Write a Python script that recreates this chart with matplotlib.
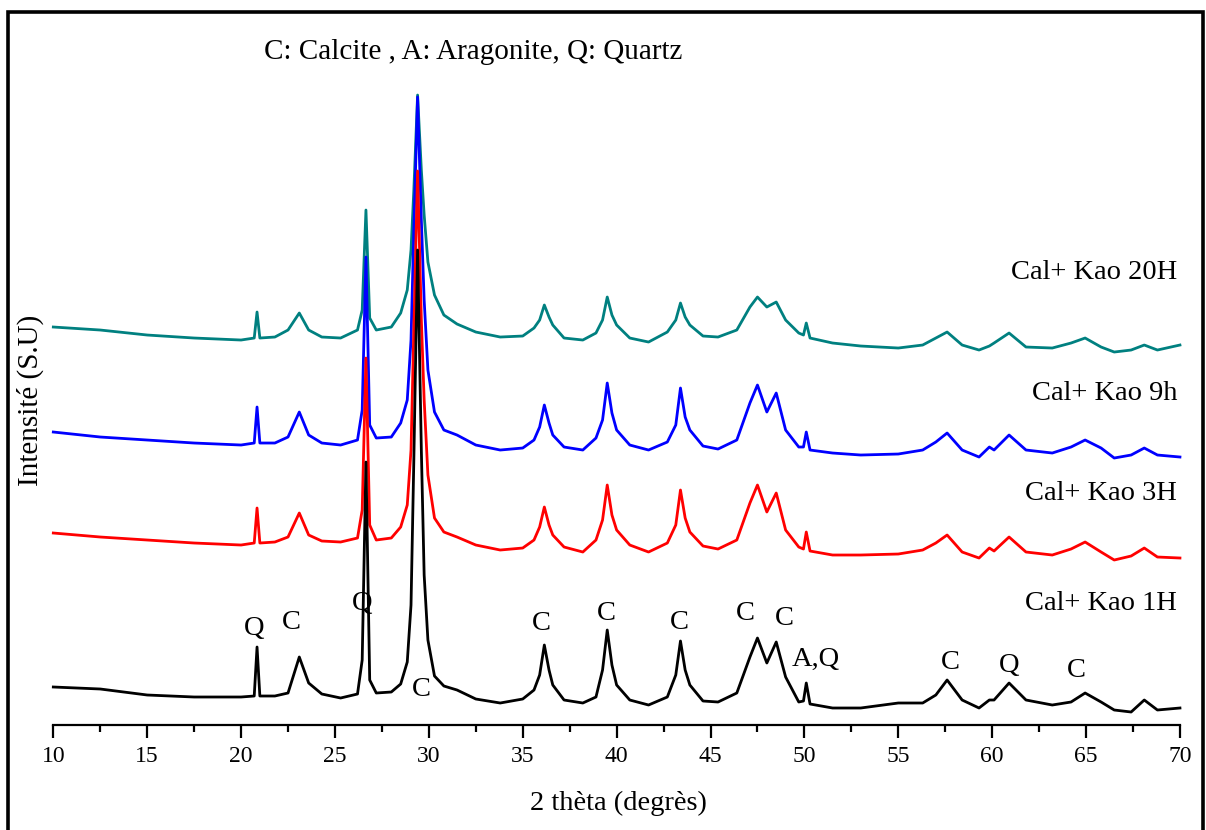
import numpy as np
import matplotlib
matplotlib.use("Agg")
import matplotlib.pyplot as plt
from matplotlib.patches import Rectangle
from matplotlib.ticker import MultipleLocator

plt.rcParams['font.family'] = ['Liberation Serif', 'DejaVu Serif']

# 2 theta positions (degrees) where the traces were read
two_theta = [10, 12.5, 15, 17.5, 20, 20.7, 20.85, 21.0, 21.8, 22.5, 23.1, 23.6, 24.3,
             25.3, 26.2, 26.45, 26.65, 26.85, 27.2, 28.0, 28.5, 28.85, 29.05, 29.2,
             29.4, 29.6, 29.75, 29.95, 30.3, 30.8, 31.5, 32.5, 33.8, 35.0, 35.6, 35.9, 36.15, 36.4,
             36.6, 37.2, 38.2, 38.9, 39.25, 39.5, 39.75, 40.0, 40.7, 41.7, 42.7, 43.15, 43.4, 43.65, 43.9, 44.6,
             45.4, 46.4, 47.1, 47.5, 48.0, 48.5, 49.0, 49.7, 49.95, 50.1, 50.3, 51.5,
             53.0, 55.0, 56.3, 57.0, 57.6, 58.4, 59.3, 59.85, 60.1, 60.9, 61.8, 63.2,
             64.2, 64.95, 65.8, 66.5, 67.4, 68.1, 68.8, 70.0]

# intensities (arbitrary units, traces offset as in the figure)
kao_20h = [398, 395, 390, 387, 385, 387, 413, 387, 388, 395, 412, 395, 388,
           387, 395, 415, 515, 407, 395, 398, 412, 435, 475, 535,
           630, 555, 510, 463, 430, 410, 401, 393, 388, 389, 397, 405, 420, 408,
           400, 387, 385, 392, 405, 428, 410, 400, 387, 383, 393, 405, 422, 408, 400, 389,
           388, 395, 418, 428, 418, 423, 405, 392, 390, 402, 387, 382,
           379, 377, 380, 387, 393, 380, 375, 379, 382, 392, 378, 377,
           382, 387, 378, 373, 375, 380, 375, 380]
kao_9h = [293, 288, 285, 282, 280, 282, 318, 282, 282, 288, 313, 290, 282,
          280, 285, 315, 468, 300, 287, 288, 302, 325, 385, 495,
          628, 505, 425, 355, 313, 295, 290, 280, 275, 277, 285, 298, 320, 302,
          290, 278, 275, 287, 305, 342, 312, 295, 280, 275, 283, 300, 337, 308, 295, 279,
          276, 285, 322, 340, 313, 332, 295, 278, 278, 293, 275, 272,
          270, 271, 275, 283, 292, 275, 268, 278, 275, 290, 275, 272,
          278, 285, 277, 267, 270, 277, 270, 268]
kao_3h = [192, 188, 185, 182, 180, 182, 217, 182, 183, 188, 212, 190, 184,
          183, 187, 215, 367, 200, 185, 187, 198, 220, 275, 395,
          554, 405, 325, 250, 207, 193, 188, 180, 175, 177, 185, 198, 218, 200,
          190, 178, 173, 185, 205, 240, 210, 195, 180, 173, 182, 200, 235, 207, 193, 179,
          176, 185, 222, 240, 213, 232, 195, 178, 176, 193, 174, 170,
          170, 171, 175, 182, 190, 173, 167, 177, 174, 188, 173, 170,
          176, 183, 173, 165, 169, 177, 168, 167]
kao_1h = [38, 36, 30, 28, 28, 29, 78, 29, 29, 32, 68, 42, 31,
          27, 31, 65, 263, 45, 32, 33, 41, 63, 120, 265,
          475, 275, 150, 85, 49, 39, 35, 26, 22, 26, 35, 50, 80, 55,
          40, 25, 22, 28, 55, 95, 60, 40, 25, 20, 28, 50, 84, 55, 40, 24,
          23, 32, 68, 87, 62, 83, 48, 23, 24, 42, 21, 17,
          17, 22, 22, 30, 45, 25, 17, 25, 25, 42, 25, 20,
          23, 32, 23, 15, 13, 25, 15, 17]

series = [kao_20h, kao_9h, kao_3h, kao_1h]
colors = ['#008080', '#0000ff', '#ff0000', '#000000']
names = ['Cal+ Kao 20H', 'Cal+ Kao 9h', 'Cal+ Kao 3H', 'Cal+ Kao 1H']
name_y = [453, 332, 232, 122]

# phase labels on the 1H trace
phase_txt = ['Q', 'C', 'Q', 'C', 'C', 'C', 'C', 'C', 'C', 'A,Q', 'C', 'Q', 'C']
phase_x = [20.69, 22.66, 26.44, 29.58, 35.97, 39.43, 43.32, 46.83, 48.91, 50.61, 57.75, 60.89, 64.46]
phase_y = [97, 103, 122, 36, 102, 112, 103, 112, 107, 66, 63, 60, 55]

fig = plt.figure(figsize=(12.06, 8.30), dpi=100)
ax = fig.add_axes([0.0442, 0.1265, 0.9342, 0.759])

for s, c in zip(series, colors):
    ax.plot(two_theta, s, color=c, lw=2.0, clip_on=False)

for n, yy in zip(names, name_y):
    ax.text(69.85, yy, n, ha='right', va='center', fontsize=20.5)

for t, xx, yy in zip(phase_txt, phase_x, phase_y):
    ax.text(xx, yy, t, ha='center', va='center', fontsize=20.5)

ax.set_xlim(10, 70)
ax.set_ylim(0, 630)
for side in ['left', 'right', 'top']:
    ax.spines[side].set_visible(False)
ax.spines['bottom'].set_linewidth(1.6)
ax.set_yticks([])
ax.xaxis.set_major_locator(MultipleLocator(5))
ax.xaxis.set_minor_locator(MultipleLocator(2.5))
ax.tick_params(axis='x', which='major', direction='out', length=9, width=1.6,
               labelsize=17, pad=6)
ax.tick_params(axis='x', which='minor', direction='out', length=5, width=1.6)

fig.text(0.0249, 1 - 400 / 830, 'Intensité (S.U)', rotation=90, ha='center',
         va='center', fontsize=21)
fig.text(618 / 1206, 1 - 803 / 830, '2 thèta (degrès)', ha='center', va='center',
         fontsize=20.5)
fig.text(473 / 1206, 1 - 52 / 830, 'C: Calcite , A: Aragonite, Q: Quartz',
         ha='center', va='center', fontsize=21)

fig.patches.append(Rectangle((8 / 1206, -0.05), 1195 / 1206, 1.05 - 12 / 830,
                             transform=fig.transFigure, fill=False, lw=2.6,
                             edgecolor='black'))

fig.savefig('out.png', dpi=100)
